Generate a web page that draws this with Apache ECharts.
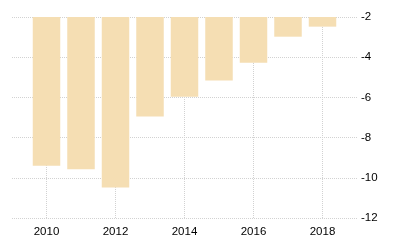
<!DOCTYPE html>
<html><head><meta charset="utf-8">
<script src="https://cdn.jsdelivr.net/npm/echarts@6/dist/echarts.min.js"></script>
<style>html,body{margin:0;padding:0;background:#fff}#c{width:400px;height:250px}</style>
</head><body><div id="c"></div>
<script>
var years = [2010, 2011, 2012, 2013, 2014, 2015, 2016, 2017, 2018];
var values = [-9.4, -9.58, -10.48, -6.95, -5.97, -5.16, -4.27, -2.98, -2.48];
var yTicks = [-12, -10, -8, -6, -4, -2];

var chart = echarts.init(document.getElementById('c'), null, {renderer: 'canvas'});
var font = 'Liberation Sans';
chart.setOption({
  animation: false,
  grid: {left: 12, right: 43, top: 17, bottom: 32, containLabel: false},
  xAxis: {
    type: 'value', min: 2009, max: 2019,
    axisLine: {show: false}, axisTick: {show: false},
    axisLabel: {color: '#000', fontFamily: font, fontSize: 11.5, margin: 8,
      showMinLabel: false, showMaxLabel: false,
      formatter: function (v) { return String(v); }},
    splitLine: {show: true, showMinLine: false, showMaxLine: false,
      lineStyle: {color: '#d2d2d2', type: [1, 1], width: 1}}
  },
  yAxis: {
    type: 'value', position: 'right', min: yTicks[0], max: yTicks[yTicks.length - 1], interval: 2,
    axisLine: {show: false}, axisTick: {show: false},
    axisLabel: {color: '#000', fontFamily: font, fontSize: 11.5, margin: 4},
    splitLine: {show: true, lineStyle: {color: '#d2d2d2', type: [1, 1], width: 1}}
  },
  series: [{
    type: 'bar', clip: true, barWidth: 27.5,
    itemStyle: {color: '#F5DEB3'},
    data: years.map(function (y, i) { return [y, values[i]]; })
  }]
});
</script></body></html>
